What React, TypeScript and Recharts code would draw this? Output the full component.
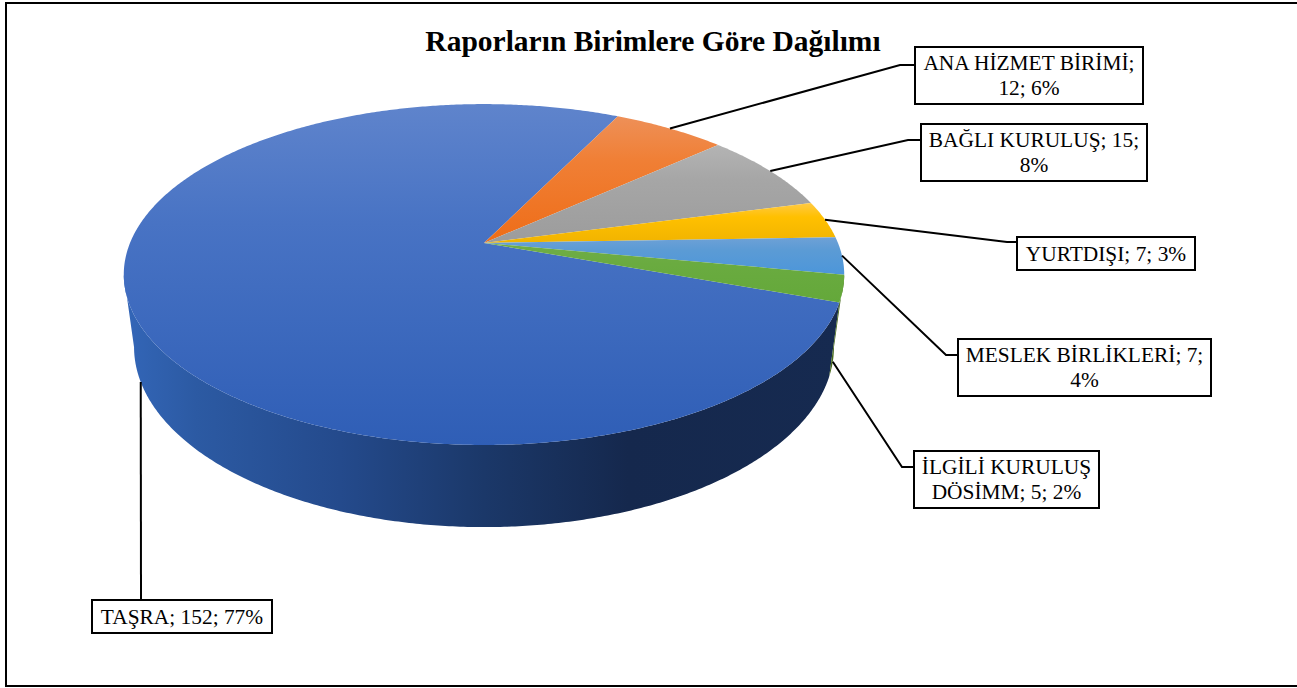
import { PieChart, Pie } from 'recharts';

const categories = ['TAŞRA', 'ANA HİZMET BİRİMİ', 'BAĞLI KURULUŞ', 'YURTDIŞI', 'MESLEK BİRLİKLERİ', 'İLGİLİ KURULUŞ DÖSİMM'];
const reportCounts = [152, 12, 15, 7, 7, 5];
const percents = [77, 6, 8, 3, 4, 2];

const topColors = [
  ['#5f84cc', '#4873c4', '#2f5eb6'],
  ['#ee9058', '#f07f35', '#ee6d18'],
  ['#b4b4b4', '#a6a6a6', '#9c9c9c'],
  ['#ffca45', '#ffc000', '#f1b300'],
  ['#6ea1d6', '#5b9bd5', '#4c96da'],
  ['#70ad47', '#6aab40', '#64a83a'],
];
const wallColors = ['url(#wall-blue)', '#a34a12', '#6a6a6a', '#a67c00', '#2a5f8f', '#46691c'];

// label boxes: [left, top, right, bottom], elbow of the leader, wrap width in chars
const labelLayout = [
  { box: [92, 600, 272, 633], elbow: [141, 600], wrap: 30, onBase: true, rimAngle: -158.5 },
  { box: [915, 47, 1143, 104], elbow: [900, 65], wrap: 20, onBase: false },
  { box: [921, 124, 1147, 181], elbow: [908, 140], wrap: 20, onBase: false },
  { box: [1017, 237, 1195, 270], elbow: [1007, 242], wrap: 30, onBase: false },
  { box: [958, 339, 1211, 396], elbow: [946, 355], wrap: 22, onBase: false },
  { box: [914, 451, 1099, 508], elbow: [902, 467], wrap: 20, onBase: true },
];

const chartData = categories.map((name, i) => ({ name, value: reportCounts[i], percent: percents[i] }));

const FONT = '"Liberation Serif", "Times New Roman", serif';
const PIE_CX = 484;
const PIE_CY = 243;
const PIE_R = 354;

// the pie is seen in perspective: the far side shrinks, the base is seen a bit more from above
const SQUASH = 0.465;
const PERSPECTIVE = 0.185;
const BASE_SCALE = 0.9715;
const BASE_SQUASH = 0.5057;
const BASE_DROP = 70.7;

const project = (cx: number, cy: number, r: number, deg: number, base = false) => {
  const t = (deg * Math.PI) / 180;
  const w = 1 + PERSPECTIVE * Math.sin(t);
  const f = base ? BASE_SCALE : 1;
  const sq = base ? BASE_SQUASH : SQUASH;
  return {
    x: cx + (f * r * Math.cos(t)) / w,
    y: cy + (base ? BASE_DROP : 0) - (f * r * sq * Math.sin(t)) / w,
  };
};

const sweep = (from: number, to: number) => {
  const steps = Math.max(2, Math.ceil(Math.abs(to - from) * 2));
  return Array.from({ length: steps + 1 }, (_, i) => from + ((to - from) * i) / steps);
};

const toPath = (pts: { x: number; y: number }[]) =>
  pts.map((p, i) => `${i ? 'L' : 'M'}${p.x.toFixed(2)} ${p.y.toFixed(2)}`).join(' ') + ' Z';

function TopSlice(props: any) {
  const { cx, cy, outerRadius, startAngle, endAngle, index } = props;
  const rim = sweep(startAngle, endAngle).map((a) => project(cx, cy, outerRadius, a));
  return <path d={toPath([{ x: cx, y: cy }, ...rim])} fill={`url(#top-${index})`} stroke="none" />;
}

function WallSlice(props: any) {
  const { cx, cy, outerRadius, startAngle, endAngle, index } = props;
  // the wall only shows between the two silhouette points of the rim
  const angles = sweep(startAngle, endAngle).filter((a) => Math.sin((a * Math.PI) / 180) <= -PERSPECTIVE + 0.004);
  if (angles.length < 2) return null;
  const upper = angles.map((a) => project(cx, cy, outerRadius, a));
  const lower = angles.map((a) => project(cx, cy, outerRadius, a, true)).reverse();
  return <path d={toPath([...upper, ...lower])} fill={wallColors[index]} stroke="none" />;
}

const wrapText = (text: string, maxChars: number) => {
  const lines: string[] = [];
  text.split(' ').forEach((word) => {
    const last = lines[lines.length - 1];
    if (last !== undefined && (last + ' ' + word).length <= maxChars) lines[lines.length - 1] = last + ' ' + word;
    else lines.push(word);
  });
  return lines;
};

function BoxLabel(props: any) {
  const { cx, cy, outerRadius, midAngle, index, name, value } = props;
  const layout = labelLayout[index];
  const [left, top, right, bottom] = layout.box;
  const anchor = project(cx, cy, outerRadius, layout.rimAngle ?? midAngle, layout.onBase);
  const lines = wrapText(`${name}; ${value}; ${percents[index]}%`, layout.wrap);
  const midX = (left + right) / 2;
  const midY = (top + bottom) / 2;
  const lineH = 25;
  return (
    <g>
      <polyline
        points={`${anchor.x},${anchor.y} ${layout.elbow[0]},${layout.elbow[1]} ${index === 0 ? layout.elbow[0] : left},${layout.elbow[1]}`}
        fill="none"
        stroke="#000"
        strokeWidth={2}
      />
      <rect x={left} y={top} width={right - left} height={bottom - top} fill="#fff" stroke="#000" strokeWidth={2} />
      <text x={midX} textAnchor="middle" fontFamily={FONT} fontSize={21.4} fill="#000">
        {lines.map((line, i) => (
          <tspan key={i} x={midX} y={midY + 7 + (i - (lines.length - 1) / 2) * lineH}>
            {line}
          </tspan>
        ))}
      </text>
    </g>
  );
}

export default function App() {
  return (
    <div style={{ position: 'absolute', left: 0, top: 0, width: 1297, height: 688, overflow: 'hidden', background: '#fff' }}>
      <PieChart width={1297} height={688} margin={{ top: 0, right: 0, bottom: 0, left: 0 }}>
        <defs>
          {topColors.map((c, i) => (
            <linearGradient key={i} id={`top-${i}`} x1="0" y1="0" x2="0" y2="1">
              <stop offset="0" stopColor={c[0]} />
              <stop offset="0.35" stopColor={c[1]} />
              <stop offset="1" stopColor={c[2]} />
            </linearGradient>
          ))}
          <linearGradient id="wall-blue" gradientUnits="userSpaceOnUse" x1="124" y1="0" x2="844" y2="0">
            <stop offset="0" stopColor="#3366b8" />
            <stop offset="0.1" stopColor="#2c5aa3" />
            <stop offset="0.3" stopColor="#244a8c" />
            <stop offset="0.5" stopColor="#1b3869" />
            <stop offset="0.7" stopColor="#15284d" />
            <stop offset="1" stopColor="#162a50" />
          </linearGradient>
        </defs>
        <rect x={6} y={3} width={1300} height={683} fill="#fff" stroke="#000" strokeWidth={2} />
        <text x={653} y={51} textAnchor="middle" fontFamily={FONT} fontWeight="bold" fontSize={29.5} fill="#000">
          Raporların Birimlere Göre Dağılımı
        </text>
        <Pie
          data={chartData}
          dataKey="value"
          nameKey="name"
          cx={PIE_CX}
          cy={PIE_CY}
          outerRadius={PIE_R}
          startAngle={-19.8}
          endAngle={-379.8}
          stroke="none"
          shape={WallSlice}
          label={false}
          labelLine={false}
          isAnimationActive={false}
        />
        <Pie
          data={chartData}
          dataKey="value"
          nameKey="name"
          cx={PIE_CX}
          cy={PIE_CY}
          outerRadius={PIE_R}
          startAngle={-19.8}
          endAngle={-379.8}
          stroke="none"
          shape={TopSlice}
          label={BoxLabel}
          labelLine={false}
          isAnimationActive={false}
        />
      </PieChart>
    </div>
  );
}
